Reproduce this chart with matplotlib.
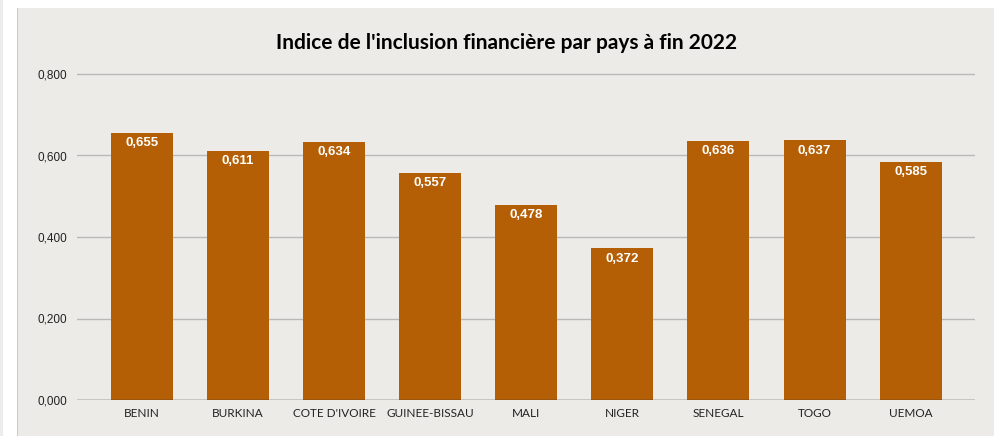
import matplotlib.pyplot as plt
from matplotlib.patches import Rectangle

pays = ['BENIN', 'BURKINA', "COTE D'IVOIRE", 'GUINEE-BISSAU', 'MALI',
        'NIGER', 'SENEGAL', 'TOGO', 'UEMOA']
indice = [0.655, 0.611, 0.634, 0.557, 0.478, 0.372, 0.636, 0.637, 0.585]
yticks = [0.0, 0.2, 0.4, 0.6, 0.8]

W, H = 995, 436
bg = '#ecebe8'
bar_color = '#b45f06'


def fmt(v):
    return f'{v:.3f}'.replace('.', ',')


fig = plt.figure(figsize=(W / 100, H / 100), dpi=100, facecolor='white')

# panel background + thin strip on the left
fig.patches.append(Rectangle((18 / W, 0), 1 - 18 / W, (H - 8) / H,
                             transform=fig.transFigure, facecolor=bg,
                             edgecolor='none', zorder=-2))
fig.patches.append(Rectangle((17 / W, 0), 1.5 / W, (H - 8) / H,
                             transform=fig.transFigure, facecolor='#c8c8c8',
                             edgecolor='none', zorder=-1))
fig.patches.append(Rectangle((0, 0), 3 / W, 1,
                             transform=fig.transFigure, facecolor='#ececea',
                             edgecolor='none', zorder=-2))

# axes: y=0 at px 400, y=0.8 at px 74
px_per_unit = (400 - 74) / 0.8
top_px = 400 - 0.82 * px_per_unit
ax = fig.add_axes([77 / W, 36 / H, (975 - 77) / W, (400 - top_px) / H])
ax.set_zorder(2)
ax.set_facecolor('none')

x = list(range(len(pays)))
ax.bar(x, indice, width=0.645, color=bar_color, zorder=3)
for xi, v in zip(x, indice):
    ax.text(xi, v - 0.025, fmt(v), ha='center', va='center', color='white',
            fontsize=9.5, fontweight='bold', family='Liberation Sans', zorder=4)

ax.set_xlim(-0.676, 8.67)
ax.set_ylim(0, 0.82)
ax.set_yticks(yticks)
ax.set_yticklabels([fmt(t) for t in yticks], family='Liberation Sans',
                   fontsize=8.5, color='#222222')
ax.set_xticks(x)
ax.set_xticklabels(pays, family='Lato', fontsize=8.5, color='#222222')
ax.tick_params(length=0, pad=7)
ax.tick_params(axis='x', pad=6)
for t in yticks[1:]:
    ax.axhline(t, color='#b8b8b8', lw=1, zorder=1)
ax.axhline(0, color='#333333', lw=1, zorder=5)
for s in ax.spines.values():
    s.set_visible(False)

fig.text(507 / W, 1 - 43 / H, "Indice de l'inclusion financière par pays à fin 2022",
         ha='center', va='center', fontsize=15, fontweight='bold',
         family='Lato', color='#000000')

fig.savefig('out.png', dpi=100, facecolor='white')
